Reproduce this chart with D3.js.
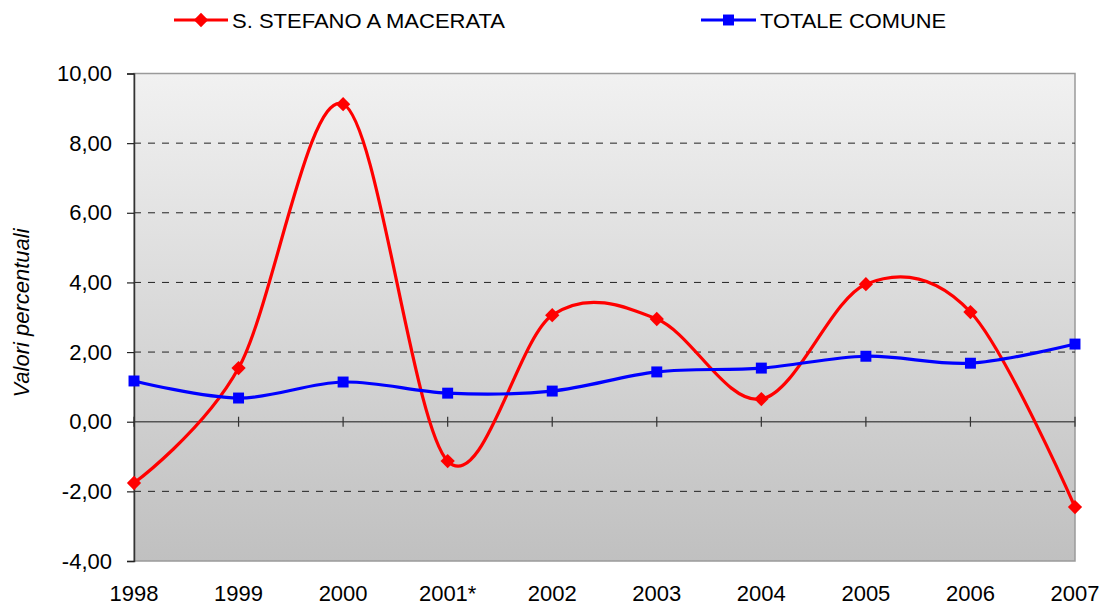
<!DOCTYPE html>
<meta charset="utf-8" />
<script src="https://d3js.org/d3.v7.min.js"></script>
<style>
  body { margin: 0; background: #fff; }
  text { font-family: "Liberation Sans", Arial, sans-serif; }
</style>
<body>
  <div id="chart"></div>
  <script>
    // data
    const years = ["1998", "1999", "2000", "2001*", "2002", "2003", "2004", "2005", "2006", "2007"];
    const stefano = [-1.76, 1.54, 9.12, -1.13, 3.06, 2.95, 0.65, 3.95, 3.15, -2.45];
    const comune = [1.17, 0.68, 1.14, 0.82, 0.88, 1.43, 1.54, 1.88, 1.68, 2.23];
    const yTicks = [-4, -2, 0, 2, 4, 6, 8, 10];

    const W = 1108, H = 605;
    const margin = { top: 73.5, right: 33, bottom: 44, left: 134 };
    const width = W - margin.left - margin.right,
      height = H - margin.top - margin.bottom;

    const svg = d3.select("#chart").append("svg")
      .attr("width", W).attr("height", H);

    const defs = svg.append("defs");
    const grad = defs.append("linearGradient")
      .attr("id", "bg").attr("x1", 0).attr("y1", 0).attr("x2", 0).attr("y2", 1);
    grad.append("stop").attr("offset", "0%").attr("stop-color", "#f1f1f1");
    grad.append("stop").attr("offset", "100%").attr("stop-color", "#c0c0c0");

    const g = svg.append("g")
      .attr("transform", "translate(" + margin.left + "," + margin.top + ")");

    const x = d3.scalePoint().domain(years).range([0, width]);
    const y = d3.scaleLinear().domain([-4, 10]).range([height, 0]);

    // plot background
    g.append("rect")
      .attr("width", width).attr("height", height)
      .attr("fill", "url(#bg)")
      .attr("stroke", "#9a9a9a").attr("stroke-width", 1.5);

    // grid lines
    g.selectAll(".grid")
      .data(yTicks.filter(d => d !== 0 && d !== 10 && d !== -4))
      .enter().append("line")
      .attr("x1", 0).attr("x2", width)
      .attr("y1", d => y(d)).attr("y2", d => y(d))
      .attr("stroke", "#222").attr("stroke-width", 1)
      .attr("stroke-dasharray", "7,7");

    // zero line
    g.append("line")
      .attr("x1", 0).attr("x2", width)
      .attr("y1", y(0)).attr("y2", y(0))
      .attr("stroke", "#555").attr("stroke-width", 1.5);

    // x ticks on zero line
    g.selectAll(".xtick")
      .data(years)
      .enter().append("line")
      .attr("x1", d => x(d)).attr("x2", d => x(d))
      .attr("y1", y(0) - 5).attr("y2", y(0) + 5)
      .attr("stroke", "#333").attr("stroke-width", 1.2);

    // y axis
    const yAxis = g.append("g")
      .call(d3.axisLeft(y).tickValues(yTicks).tickSize(7)
        .tickFormat(d => d3.format(".2f")(d).replace(".", ",").replace("\u2212", "-")));
    yAxis.select(".domain").attr("stroke", "#333").attr("stroke-width", 1.5);
    yAxis.selectAll(".tick line").attr("stroke", "#222").attr("stroke-width", 1.2);
    yAxis.selectAll(".tick text")
      .attr("x", -22)
      .attr("fill", "#000")
      .style("font-size", "22px")
      .style("font-family", "Liberation Sans, Arial, sans-serif");

    // x labels
    g.selectAll(".xlab")
      .data(years)
      .enter().append("text")
      .attr("x", d => x(d))
      .attr("y", height + 39.5)
      .attr("text-anchor", "middle")
      .style("font-size", "22px")
      .text(d => d);

    // y axis title
    svg.append("text")
      .attr("transform", "translate(29,313)rotate(-90)")
      .attr("text-anchor", "middle")
      .style("font-size", "22px")
      .style("font-style", "italic")
      .text("Valori percentuali");

    const line = d3.line()
      .x((d, i) => x(years[i]))
      .y(d => y(d))
      .curve(d3.curveCardinal.tension(0));

    const series = [
      { name: "S. STEFANO A MACERATA", values: stefano, color: "#ff0000", marker: d3.symbolDiamond2, size: 130 },
      { name: "TOTALE COMUNE", values: comune, color: "#0000ff", marker: d3.symbolSquare, size: 120 }
    ];

    series.forEach(s => {
      g.append("path")
        .datum(s.values)
        .attr("d", line)
        .attr("fill", "none")
        .attr("stroke", s.color)
        .attr("stroke-width", 3.2);
      g.selectAll(null)
        .data(s.values)
        .enter().append("path")
        .attr("d", d3.symbol().type(s.marker).size(s.size))
        .attr("transform", (d, i) => "translate(" + x(years[i]) + "," + y(d) + ")")
        .attr("fill", s.color);
    });

    // legend
    const legendPos = [
      { x1: 174, x2: 228, tx: 232, tl: 273 },
      { x1: 701, x2: 756, tx: 760, tl: 186 }
    ];
    series.forEach((s, i) => {
      const p = legendPos[i];
      const lg = svg.append("g");
      lg.append("line")
        .attr("x1", p.x1).attr("x2", p.x2)
        .attr("y1", 20).attr("y2", 20)
        .attr("stroke", s.color).attr("stroke-width", 3.2);
      lg.append("path")
        .attr("d", d3.symbol().type(s.marker).size(s.size))
        .attr("transform", "translate(" + (p.x1 + p.x2) / 2 + ",20)")
        .attr("fill", s.color);
      lg.append("text")
        .attr("x", p.tx).attr("y", 28)
        .attr("textLength", p.tl)
        .attr("lengthAdjust", "spacingAndGlyphs")
        .style("font-size", "21px")
        .text(s.name);
    });
  </script>
</body>
